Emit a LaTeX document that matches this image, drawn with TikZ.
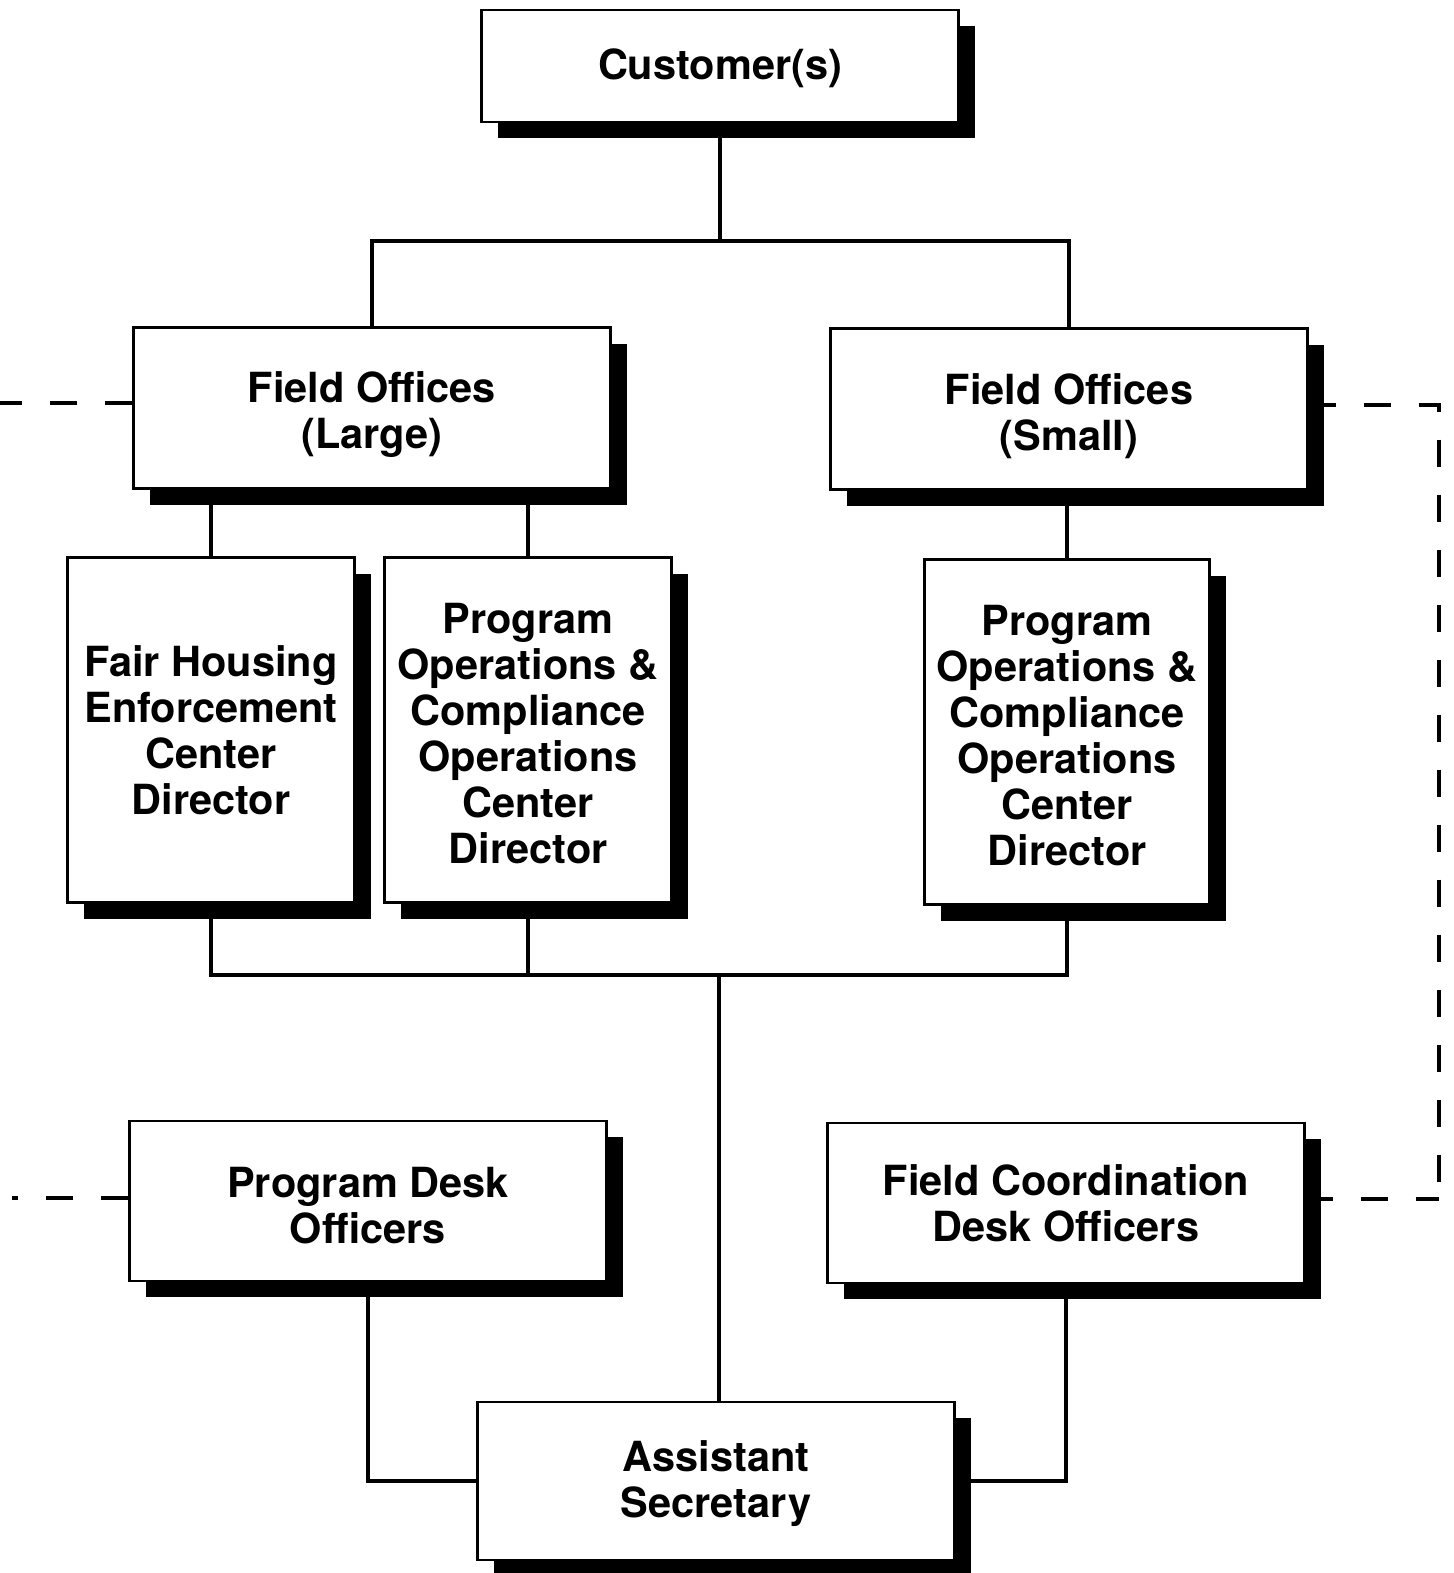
\documentclass[tikz,border=0pt]{standalone}
\usepackage{fontspec}
\setmainfont{TeX Gyre Heros}
\usetikzlibrary{shadows,backgrounds}

\begin{document}
\begin{tikzpicture}[x=1pt,y=-1pt,
    box/.style={draw,fill=white,line width=2.4pt,align=center,inner sep=0pt,
      minimum width=477pt,minimum height=161pt,
      font=\bfseries\fontsize{41.5}{46}\selectfont,
      drop shadow={shadow xshift=16pt,shadow yshift=-16pt,fill=black,opacity=1}},
    tall/.style={box,minimum width=287pt,minimum height=345pt},
    link/.style={line width=3.2pt},
    dashlink/.style={line width=3.2pt,dash pattern=on 27pt off 28pt}]
    \useasboundingbox (0,0) rectangle (1453,1573);

    \node[box,minimum height=112pt] (cust) at (720,66) {\rule{0pt}{36pt}Customer(s)};
    \node[box] (foL) at (372,408) {\rule{0pt}{45pt}Field Offices\\(Large)};
    \node[box] (foS) at (1069,409) {\rule{0pt}{45pt}Field Offices\\(Small)};
    \node[tall] (fhe) at (211,730) {Fair Housing\\Enforcement\\Center\\Director};
    \node[tall] (pocL) at (528,730) {\rule{0pt}{37pt}Program\\Operations \&\\Compliance\\Operations\\Center\\Director};
    \node[tall,minimum width=285pt] (pocS) at (1067,732) {\rule{0pt}{37pt}Program\\Operations \&\\Compliance\\Operations\\Center\\Director};
    \node[box,minimum height=160pt] (pdo) at (368,1201) {\rule{0pt}{39pt}Program Desk\\Officers};
    \node[box,minimum height=160pt] (fcdo) at (1066,1203) {Field Coordination\\Desk Officers};
    \node[box,minimum height=158pt] (asec) at (716,1481) {\rule{0pt}{36pt}Assistant\\Secretary};

    \begin{scope}[on background layer]
        \coordinate (top) at (720,241);
        \coordinate (mid) at (719,975);
        \draw[link] (cust) -- (top);
        \draw[link] (foL) |- (top) -| (foS);
        \draw[link] (fhe) -- (fhe |- foL);
        \draw[link] (pocL) -- (pocL |- foL);
        \draw[link] (pocS) -- (pocS |- foS);
        \draw[link] (fhe) |- (mid) -| (pocS);
        \draw[link] (pocL) -- (pocL |- mid);
        \draw[link] (mid) -- (mid |- asec);
        \draw[link] (pdo) |- (asec);
        \draw[link] (fcdo) |- (asec);

        % dashed links
        \coordinate (lTop) at (0,403);
        \coordinate (lBot) at (12,1198);
        \coordinate (rTop) at (1439,405);
        \coordinate (rBot) at (1439,1199);
        \draw[dashlink] (foL.west |- lTop) -- (lTop);
        \draw[dashlink] (pdo.west |- lBot) -- (lBot);
        \draw[dashlink] (foS.east |- rTop) -- (rTop) -- (rBot);
        \draw[dashlink] (fcdo.east |- rBot) -- (rBot);
    \end{scope}
\end{tikzpicture}
\end{document}
